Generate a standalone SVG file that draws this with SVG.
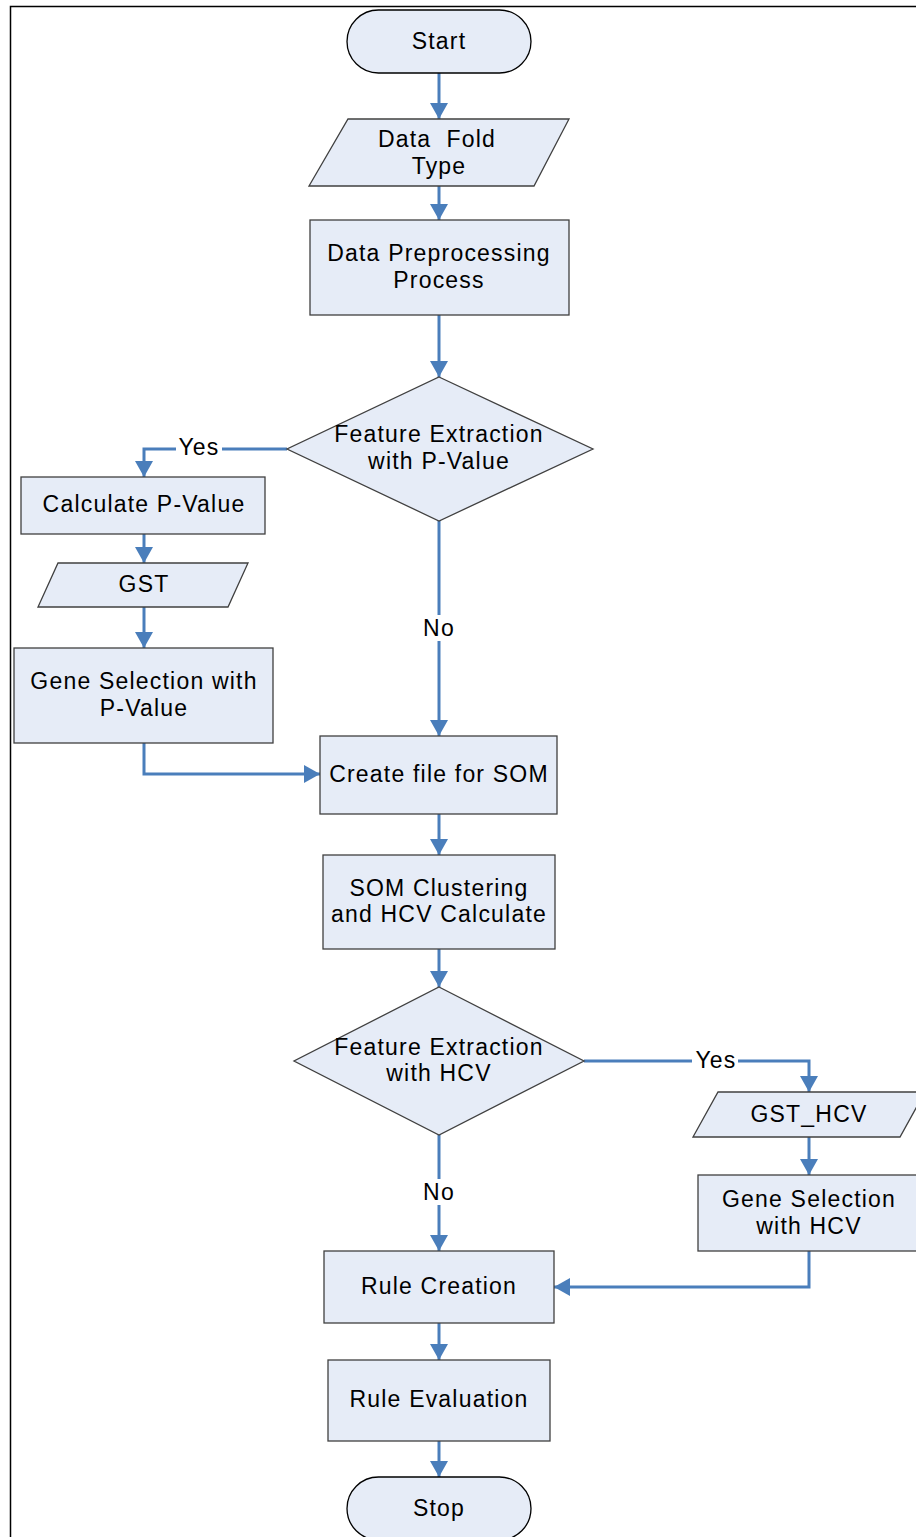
<svg xmlns="http://www.w3.org/2000/svg" width="916" height="1537" viewBox="0 0 916 1537">
  <style>
    .shape { fill: #E6ECF7; stroke: #404040; stroke-width: 1.3; }
    .term { fill: #E6ECF7; stroke: #000; stroke-width: 1.3; }
    .label { font-family: "Liberation Sans", Arial, sans-serif; font-size: 23px; letter-spacing: 1.2px; fill: #000; text-anchor: middle; white-space: pre; }
    .edge { fill: none; stroke: #4A7EBB; stroke-width: 3; }
    .tag { fill: #fff; }
  </style>
  <defs>
    <marker id="arrow" markerUnits="userSpaceOnUse" markerWidth="18" markerHeight="18" refX="16" refY="9" orient="auto">
      <path d="M0,0 L16,9 L0,18 Z" fill="#4A7EBB"/>
    </marker>
  </defs>

  <rect width="916" height="1537" fill="#fff"/>
  <!-- page frame -->
  <path d="M10.5,1537 V6.5 H916" fill="none" stroke="#000" stroke-width="1.5"/>

  <g id="connectors">
    <path class="edge" d="M439,73 V119" marker-end="url(#arrow)"/>
    <path class="edge" d="M439,186 V220" marker-end="url(#arrow)"/>
    <path class="edge" d="M439,315 V377" marker-end="url(#arrow)"/>
    <path class="edge" d="M287,449 H144 V477" marker-end="url(#arrow)"/>
    <path class="edge" d="M144,534 V563" marker-end="url(#arrow)"/>
    <path class="edge" d="M144,607 V648" marker-end="url(#arrow)"/>
    <path class="edge" d="M144,743 V774 H320" marker-end="url(#arrow)"/>
    <path class="edge" d="M439,521 V736" marker-end="url(#arrow)"/>
    <path class="edge" d="M439,814 V855" marker-end="url(#arrow)"/>
    <path class="edge" d="M439,949 V987" marker-end="url(#arrow)"/>
    <path class="edge" d="M584,1061 H809 V1092" marker-end="url(#arrow)"/>
    <path class="edge" d="M809,1137 V1175" marker-end="url(#arrow)"/>
    <path class="edge" d="M809,1251 V1287 H554" marker-end="url(#arrow)"/>
    <path class="edge" d="M439,1135 V1251" marker-end="url(#arrow)"/>
    <path class="edge" d="M439,1323 V1360" marker-end="url(#arrow)"/>
    <path class="edge" d="M439,1441 V1477" marker-end="url(#arrow)"/>

    <!-- branch labels -->
    <rect class="tag" x="176" y="437" width="46" height="24"/>
    <text class="label" x="199" y="455">Yes</text>
    <rect class="tag" x="422" y="615" width="34" height="26"/>
    <text class="label" x="439" y="636">No</text>
    <rect class="tag" x="692" y="1049" width="46" height="24"/>
    <text class="label" x="716" y="1068">Yes</text>
    <rect class="tag" x="422" y="1179" width="34" height="26"/>
    <text class="label" x="439" y="1200">No</text>
  </g>

  <g id="start">
    <rect class="term" x="347" y="10" width="184" height="63" rx="31.5"/>
    <text class="label" x="439" y="49">Start</text>
  </g>

  <g id="data-fold-type">
    <polygon class="shape" points="348,119 569,119 534,186 309,186"/>
    <text class="label" x="437" y="147">Data  Fold</text>
    <text class="label" x="439" y="174">Type</text>
  </g>

  <g id="preprocessing">
    <rect class="shape" x="310" y="220" width="259" height="95"/>
    <text class="label" x="439" y="261">Data Preprocessing</text>
    <text class="label" x="439" y="288">Process</text>
  </g>

  <g id="decision-pvalue">
    <polygon class="shape" points="439,377 593,449 439,521 287,449"/>
    <text class="label" x="439" y="442">Feature Extraction</text>
    <text class="label" x="439" y="469">with P-Value</text>
  </g>

  <g id="calculate-pvalue">
    <rect class="shape" x="21" y="477" width="244" height="57"/>
    <text class="label" x="144" y="512">Calculate P-Value</text>
  </g>

  <g id="gst">
    <polygon class="shape" points="58,563 248,563 228,607 38,607"/>
    <text class="label" x="144" y="592">GST</text>
  </g>

  <g id="gene-selection-pvalue">
    <rect class="shape" x="14" y="648" width="259" height="95"/>
    <text class="label" x="144" y="689">Gene Selection with</text>
    <text class="label" x="144" y="716">P-Value</text>
  </g>

  <g id="create-file">
    <rect class="shape" x="320" y="736" width="237" height="78"/>
    <text class="label" x="439" y="782">Create file for SOM</text>
  </g>

  <g id="som-clustering">
    <rect class="shape" x="323" y="855" width="232" height="94"/>
    <text class="label" x="439" y="896">SOM Clustering</text>
    <text class="label" x="439" y="922">and HCV Calculate</text>
  </g>

  <g id="decision-hcv">
    <polygon class="shape" points="439,987 584,1061 439,1135 294,1061"/>
    <text class="label" x="439" y="1055">Feature Extraction</text>
    <text class="label" x="439" y="1081">with HCV</text>
  </g>

  <g id="gst-hcv">
    <polygon class="shape" points="718,1092 925,1092 900,1137 693,1137"/>
    <text class="label" x="809" y="1122">GST_HCV</text>
  </g>

  <g id="gene-selection-hcv">
    <rect class="shape" x="698" y="1175" width="222" height="76"/>
    <text class="label" x="809" y="1207">Gene Selection</text>
    <text class="label" x="809" y="1234">with HCV</text>
  </g>

  <g id="rule-creation">
    <rect class="shape" x="324" y="1251" width="230" height="72"/>
    <text class="label" x="439" y="1294">Rule Creation</text>
  </g>

  <g id="rule-evaluation">
    <rect class="shape" x="328" y="1360" width="222" height="81"/>
    <text class="label" x="439" y="1407">Rule Evaluation</text>
  </g>

  <g id="stop">
    <rect class="term" x="347" y="1477" width="184" height="63" rx="31.5"/>
    <text class="label" x="439" y="1516">Stop</text>
  </g>
</svg>
